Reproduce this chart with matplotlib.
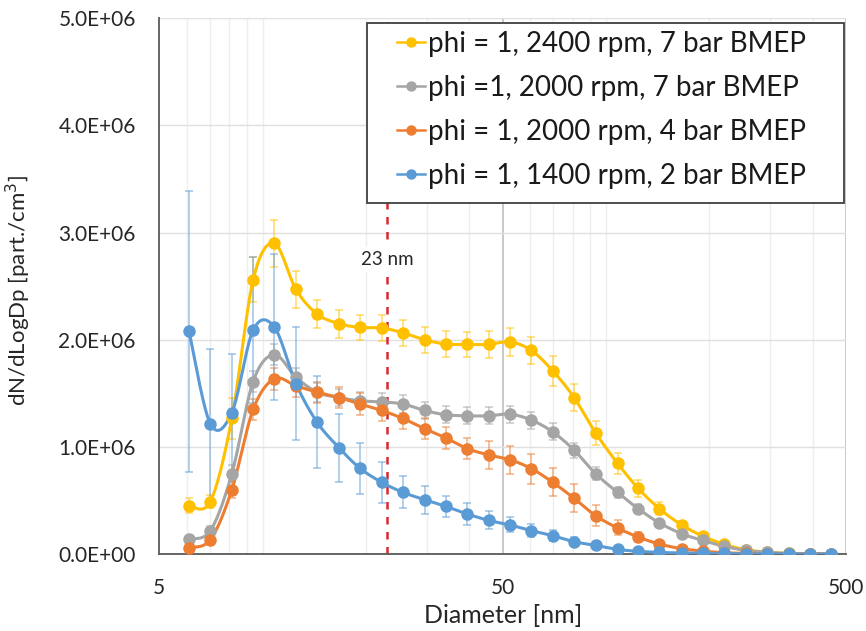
import numpy as np
import matplotlib
matplotlib.use("Agg")
import matplotlib.pyplot as plt
from matplotlib.patches import Rectangle
from matplotlib.ticker import FuncFormatter, FixedLocator, LogLocator, NullFormatter

plt.rcParams['font.family'] = ['Lato', 'DejaVu Sans']

# particle diameter bins [nm]
diameter = [6.1, 7.04, 8.13, 9.38, 10.8, 12.5, 14.4, 16.7, 19.2, 22.2, 25.6, 29.6,
            34.1, 39.4, 45.5, 52.5, 60.6, 69.9, 80.7, 93.2, 108, 124, 143, 166,
            191, 221, 255, 294, 340, 392, 453]

labels = ["phi = 1, 2400 rpm, 7 bar BMEP",
          "phi =1, 2000 rpm, 7 bar BMEP",
          "phi = 1, 2000 rpm, 4 bar BMEP",
          "phi = 1, 1400 rpm, 2 bar BMEP"]

# dN/dLogDp in units of 1E+06 part./cm3
yellow = [0.45, 0.49, 1.265, 2.56, 2.90, 2.47, 2.24, 2.15, 2.115, 2.11, 2.065, 2.00,
          1.96, 1.956, 1.956, 1.98, 1.90, 1.71, 1.46, 1.13, 0.847, 0.613, 0.423, 0.271,
          0.168, 0.09, 0.04, 0.018, 0.006, 0.002, 0.001]
gray = [0.14, 0.218, 0.75, 1.61, 1.86, 1.65, 1.51, 1.46, 1.43, 1.42, 1.40, 1.34,
        1.30, 1.29, 1.29, 1.305, 1.25, 1.14, 0.97, 0.75, 0.575, 0.423, 0.29, 0.19,
        0.127, 0.071, 0.034, 0.015, 0.006, 0.002, 0.001]
orange = [0.06, 0.134, 0.60, 1.35, 1.635, 1.57, 1.51, 1.46, 1.40, 1.34, 1.265, 1.17,
          1.084, 0.984, 0.925, 0.88, 0.797, 0.67, 0.52, 0.358, 0.243, 0.159, 0.093, 0.05,
          0.028, 0.012, 0.006, 0.003, 0.001, 0.001, 0.001]
blue = [2.08, 1.215, 1.32, 2.09, 2.12, 1.59, 1.23, 0.99, 0.80, 0.67, 0.576, 0.507,
        0.445, 0.374, 0.314, 0.271, 0.218, 0.171, 0.115, 0.08, 0.043, 0.025, 0.015, 0.01,
        0.008, 0.005, 0.003, 0.002, 0.001, 0.001, 0.001]

yellow_err = [0.07, 0.065, 0.19, 0.21, 0.22, 0.17, 0.13, 0.13, 0.12, 0.12, 0.12, 0.12,
              0.12, 0.12, 0.13, 0.13, 0.13, 0.14, 0.125, 0.115, 0.1, 0.08, 0.06, 0.04,
              0.03, 0.02, 0.01, 0.005, 0.003, 0.001, 0.001]
gray_err = [0.03, 0.04, 0.08, 0.1, 0.1, 0.09, 0.09, 0.08, 0.08, 0.08, 0.08, 0.08,
            0.08, 0.08, 0.08, 0.08, 0.08, 0.08, 0.07, 0.06, 0.05, 0.04, 0.03, 0.02,
            0.015, 0.01, 0.005, 0.003, 0.002, 0.001, 0.001]
orange_err = [0.03, 0.04, 0.08, 0.1, 0.1, 0.1, 0.1, 0.1, 0.1, 0.1, 0.1, 0.1,
              0.1, 0.1, 0.13, 0.13, 0.14, 0.13, 0.13, 0.1, 0.07, 0.05, 0.03, 0.02,
              0.01, 0.007, 0.004, 0.002, 0.001, 0.001, 0.001]
blue_err = [1.31, 0.7, 0.55, 0.68, 0.68, 0.53, 0.43, 0.32, 0.24, 0.19, 0.15, 0.13,
            0.1, 0.1, 0.085, 0.07, 0.06, 0.05, 0.04, 0.03, 0.02, 0.015, 0.01, 0.008,
            0.005, 0.003, 0.002, 0.001, 0.001, 0.001, 0.001]

cut_size = 23

colors = ['#FFC000', '#A5A5A5', '#ED7D31', '#5B9BD5']
series = [yellow, gray, orange, blue]
errors = [yellow_err, gray_err, orange_err, blue_err]


def smooth_line(x, y, n=16):
    # Catmull-Rom through the points in log-x space (like Excel's smoothed line)
    lx = np.log10(np.asarray(x, float))
    y = np.asarray(y, float)
    xs, ys = [], []
    m = len(lx)
    for i in range(m - 1):
        i0, i3 = max(i - 1, 0), min(i + 2, m - 1)
        t = np.linspace(0, 1, n, endpoint=False)
        for arr, out in ((lx, xs), (y, ys)):
            p0, p1, p2, p3 = arr[i0], arr[i], arr[i + 1], arr[i3]
            out.extend(0.5 * ((2 * p1) + (-p0 + p2) * t + (2 * p0 - 5 * p1 + 4 * p2 - p3) * t ** 2
                              + (-p0 + 3 * p1 - 3 * p2 + p3) * t ** 3))
    xs.append(lx[-1])
    ys.append(y[-1])
    return 10 ** np.array(xs), np.array(ys)


fig = plt.figure(figsize=(8.66, 6.31), dpi=100)
ax = fig.add_axes([0.184, 0.122, 0.793, 0.849])

ax.set_xscale('log')
ax.set_xlim(5, 500)
ax.set_ylim(0, 5e6)

ax.xaxis.set_major_locator(FixedLocator([5, 50, 500]))
ax.xaxis.set_major_formatter(FuncFormatter(lambda v, p: f"{v:g}"))
ax.xaxis.set_minor_locator(LogLocator(base=10, subs=np.arange(1, 10)))
ax.xaxis.set_minor_formatter(NullFormatter())
ax.set_yticks(np.arange(0, 5.01e6, 1e6))
ax.yaxis.set_major_formatter(FuncFormatter(lambda v, p: f"{v:.1E}"))

ax.grid(True, which='major', axis='y', color='#E0E0E0', lw=1)
ax.grid(True, which='minor', axis='x', color='#EEEEEE', lw=1)
for xv in [50, 500]:
    ax.axvline(xv, color='#BFBFBF', lw=1.2, zorder=0.5)
ax.set_axisbelow(True)

for s in ['top', 'right']:
    ax.spines[s].set_visible(False)
for s in ['left', 'bottom']:
    ax.spines[s].set_color('#595959')
    ax.spines[s].set_linewidth(1.3)
ax.tick_params(which='both', length=0, labelsize=15, colors='#262626')
ax.tick_params(axis='x', pad=17)
ax.tick_params(axis='y', pad=17)

handles = []
for vals, err, c in zip(series, errors, colors):
    y = np.array(vals) * 1e6
    e = np.array(err) * 1e6
    ax.errorbar(diameter, y, yerr=e, fmt='none', ecolor=c, alpha=0.55,
                elinewidth=1.2, capsize=3, capthick=1.2, zorder=2)
for vals, c, lab in zip(series, colors, labels):
    y = np.array(vals) * 1e6
    sx, sy = smooth_line(diameter, y)
    ax.plot(sx, sy, color=c, lw=2.2, zorder=3)
    ax.plot(diameter, y, 'o', color=c, ms=8, zorder=4)
    h, = ax.plot([], [], '-o', color=c, lw=1.8, ms=6.5, label=lab)
    handles.append(h)

ax.axvline(cut_size, color='#D9282E', lw=1.8, ls=(0, (3, 3)), zorder=1.5)
ax.text(cut_size, 2.75e6, "23 nm", ha='center', va='center', fontsize=13.5, color='#262626',
        bbox=dict(facecolor='white', edgecolor='none', pad=3), zorder=1.6)

# legend box drawn separately so its padding can match the original
ax.add_patch(Rectangle((0.3025, 0.6558), 0.9971 - 0.3025, 0.9918 - 0.6558,
                       transform=ax.transAxes, facecolor='white', edgecolor='#404040',
                       lw=1.3, zorder=5, clip_on=False))
leg = ax.legend(handles=handles, loc='upper left', bbox_to_anchor=(0.346, 0.977),
                borderaxespad=0, borderpad=0, fontsize=20, frameon=False,
                handlelength=1.0, handletextpad=0.12, labelspacing=0.65)
leg.set_zorder(6)
for t in leg.get_texts():
    t.set_color('#1a1a1a')

ax.set_xlabel("Diameter [nm]", fontsize=18, color='#262626')
ax.xaxis.set_label_coords(0.5, -0.093)
ax.set_ylabel("dN/dLogDp [part./cm$^3$]", fontsize=16, color='#262626')
ax.yaxis.set_label_coords(-0.184, 0.491)

fig.savefig("out.png", dpi=100)
